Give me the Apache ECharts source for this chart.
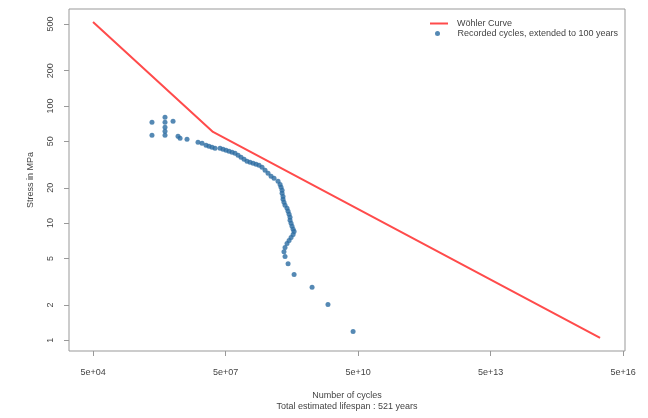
<!DOCTYPE html>
<html>
<head>
<meta charset="utf-8">
<script src="https://cdn.jsdelivr.net/npm/echarts@6/dist/echarts.min.js"></script>
<style>
html,body{margin:0;padding:0;background:#fff;}
#c{width:648px;height:418px;}
</style>
</head>
<body>
<div id="c"></div>
<script>
// Wöhler (S-N) curve: cycles and stress (MPa)
const woehlerCycles = [5e4, 2.6e7, 1.5e16];
const woehlerStress = [520, 60, 1.05];

// Recorded cycles, extended to 100 years
const recordedCycles = [
  1.08e6, 1.08e6, 2.13e6, 2.13e6, 2.13e6, 2.13e6, 2.13e6, 3.24e6, 4.20e6, 4.67e6, 6.71e6,
  1.19e7, 1.47e7, 1.81e7, 2.11e7, 2.47e7, 2.89e7, 3.75e7, 4.39e7, 5.13e7, 6.00e7,
  7.02e7, 8.20e7, 9.60e7, 1.12e8, 1.31e8, 1.53e8, 1.79e8, 2.10e8, 2.45e8, 2.86e8,
  3.35e8, 3.92e8, 4.58e8, 5.36e8, 6.26e8, 7.71e8, 8.57e8, 9.02e8, 9.51e8, 9.51e8,
  1.00e9, 1.00e9, 1.05e9, 1.11e9, 1.23e9, 1.30e9, 1.37e9, 1.44e9, 1.44e9, 1.52e9,
  1.60e9, 1.69e9, 1.78e9, 1.69e9, 1.52e9, 1.37e9, 1.23e9, 1.11e9, 1.05e9, 1.11e9,
  1.30e9, 1.78e9, 4.54e9, 1.04e10, 3.85e10
];
const recordedStress = [
  72.6, 56.3, 80.2, 72.6, 65.9, 60.8, 56.3, 74.1, 55.2, 53.1, 52.0,
  49.0, 48.1, 46.2, 45.3, 44.4, 43.6, 43.6, 42.7, 41.9, 41.1,
  40.3, 39.5, 37.9, 36.5, 35.1, 33.7, 33.1, 32.4, 31.8, 31.2,
  30.0, 28.2, 26.6, 25.1, 24.2, 22.8, 21.4, 20.2, 19.1, 18.0,
  16.9, 16.0, 15.1, 14.2, 13.4, 12.6, 11.9, 11.2, 10.6, 9.95,
  9.4, 8.85, 8.5, 8.0, 7.55, 7.1, 6.7, 6.2, 5.7, 5.2,
  4.5, 3.65, 2.83, 2.02, 1.19
];

// Tick values
const xTicks = [5e4, 5e7, 5e10, 5e13, 5e16];
const yTicks = [1, 2, 5, 10, 20, 50, 100, 200, 500];

const xTitle = 'Number of cycles';
const subTitle = 'Total estimated lifespan : 521 years';
const yTitle = 'Stress in MPa';
const nameCurve = 'Wöhler Curve';
const nameRecorded = 'Recorded cycles, extended to 100 years';

function fmtSci(v) {
  const e = Math.round(Math.log10(v / 5));
  return '5e+' + (e < 10 ? '0' + e : '' + e);
}

const chart = echarts.init(document.getElementById('c'), null, {renderer: 'canvas'});
const font = 'Liberation Sans, Arial, sans-serif';
const txt = '#444';
const lineCol = '#999';

chart.setOption({
  animation: false,
  backgroundColor: '#fff',
  textStyle: {fontFamily: font},
  grid: {left: 69, right: 23, top: 9, bottom: 67, show: true, borderColor: lineCol, borderWidth: 1, backgroundColor: 'transparent'},
  legend: [
    {
      orient: 'vertical',
      left: 425,
      top: 14,
      padding: 5,
      itemWidth: 18,
      itemHeight: 2,
      textStyle: {fontSize: 9, color: txt, fontFamily: font, padding: [0, 0, 0, 4]},
      data: [{name: nameCurve, icon: 'rect'}]
    },
    {
      orient: 'vertical',
      left: 430,
      top: 24,
      padding: 5,
      itemWidth: 20,
      itemHeight: 5,
      textStyle: {fontSize: 9, color: txt, fontFamily: font, padding: [0, 0, 0, 5]},
      data: [{name: nameRecorded, icon: 'circle'}]
    }
  ],
  xAxis: {
    type: 'log',
    logBase: 10,
    min: 1.43e4,
    max: 5.5e16,
    name: xTitle + '\n' + subTitle,
    nameLocation: 'middle',
    nameGap: 39,
    nameTextStyle: {fontSize: 9, color: txt, lineHeight: 11, fontFamily: font},
    axisLine: {show: false},
    axisTick: {show: true, length: 5, lineStyle: {color: lineCol}, customValues: xTicks},
    axisLabel: {show: true, fontSize: 9, color: txt, margin: 17, customValues: xTicks, formatter: fmtSci},
    splitLine: {show: false},
    minorTick: {show: false}
  },
  yAxis: {
    type: 'log',
    logBase: 10,
    min: 0.81,
    max: 672,
    name: yTitle,
    nameLocation: 'middle',
    nameGap: 34,
    nameTextStyle: {fontSize: 9, color: txt, fontFamily: font},
    axisLine: {show: false},
    axisTick: {show: true, length: 5, lineStyle: {color: lineCol}, customValues: yTicks},
    axisLabel: {show: true, fontSize: 9, color: txt, margin: 14, rotate: 90, customValues: yTicks,
      formatter: function (v) { return String(Math.round(v)); }},
    splitLine: {show: false},
    minorTick: {show: false}
  },
  series: [
    {
      name: nameCurve,
      type: 'line',
      symbol: 'none',
      data: woehlerCycles.map((c, i) => [c, woehlerStress[i]]),
      lineStyle: {color: '#ff4b4b', width: 2},
      itemStyle: {color: '#ff4b4b'},
      z: 2
    },
    {
      name: nameRecorded,
      type: 'scatter',
      symbol: 'circle',
      symbolSize: 5,
      data: recordedCycles.map((c, i) => [c, recordedStress[i]]),
      itemStyle: {color: '#2b6ba1'},
      z: 3
    }
  ]
});
</script>
</body>
</html>
